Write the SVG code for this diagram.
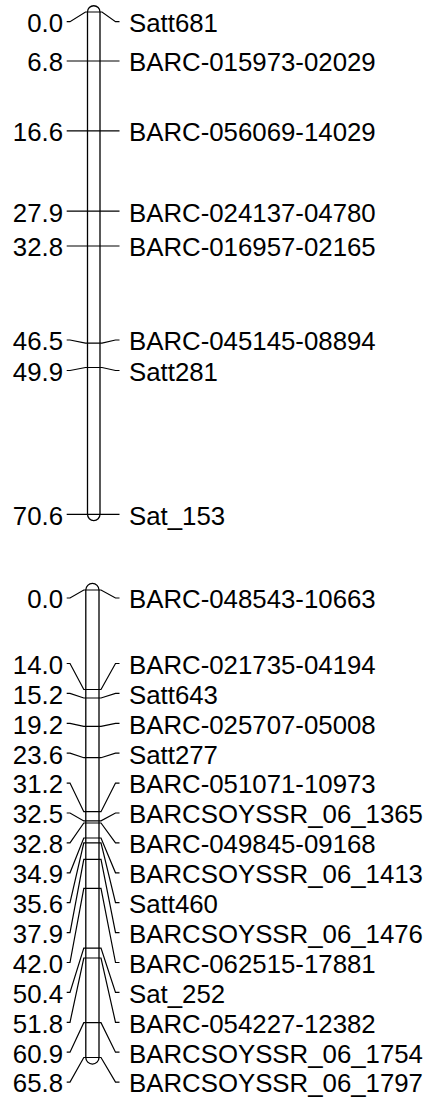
<svg xmlns="http://www.w3.org/2000/svg" width="432" height="1101" viewBox="0 0 432 1101">
<style>
.bar{fill:#fff;stroke:#000;stroke-width:1.3}
.ln{fill:none;stroke:#000;stroke-width:1.2}
.pos{font-family:"Liberation Sans",Arial,sans-serif;font-size:25.8px;fill:#000;text-anchor:end}
.nm{font-family:"Liberation Sans",Arial,sans-serif;font-size:25.8px;fill:#000}
</style>
<rect width="432" height="1101" fill="#fff"/>
<g id="chr1">
<path class="bar" d="M87.5 12 A6.25 6.25 0 0 1 100 12 V514.3 A6.25 6.25 0 0 1 87.5 514.3 Z"/>
</g>
<g id="chr2">
<path class="bar" d="M85.8 590 A6.6 6.6 0 0 1 99 590 V1057.5 A6.6 6.6 0 0 1 85.8 1057.5 Z"/>
</g>
<g id="connectors">
<path class="ln" d="M66.7 21.7 H70 L85.5 12 H102 L115.5 21.7 H119.5"/>
<path class="ln" d="M66.7 61 H119.5"/>
<path class="ln" d="M66.7 130.8 H119.5"/>
<path class="ln" d="M66.7 211.2 H119.5"/>
<path class="ln" d="M66.7 246 H119.5"/>
<path class="ln" d="M66.7 340 H70 L85.5 343.1 H102 L115.5 340 H119.5"/>
<path class="ln" d="M66.7 370.5 H70 L85.5 367.5 H102 L115.5 370.5 H119.5"/>
<path class="ln" d="M66.7 514.3 H119.5"/>

<path class="ln" d="M66.7 598 H70 L83.8 590 H101 L115.5 598 H119.5"/>
<path class="ln" d="M66.7 663.5 H70 L83.8 689.5 H101 L115.5 663.5 H119.5"/>
<path class="ln" d="M66.7 693.4 H70 L83.8 698 H101 L115.5 693.4 H119.5"/>
<path class="ln" d="M66.7 723.3 H70 L83.8 726.4 H101 L115.5 723.3 H119.5"/>
<path class="ln" d="M66.7 753.2 H70 L83.8 757.7 H101 L115.5 753.2 H119.5"/>
<path class="ln" d="M66.7 783.1 H70 L83.8 811.7 H101 L115.5 783.1 H119.5"/>
<path class="ln" d="M66.7 813 H70 L83.8 820.9 H101 L115.5 813 H119.5"/>
<path class="ln" d="M66.7 842.9 H70 L83.8 823 H101 L115.5 842.9 H119.5"/>
<path class="ln" d="M66.7 872.8 H70 L83.8 838 H101 L115.5 872.8 H119.5"/>
<path class="ln" d="M66.7 902.7 H70 L83.8 842.9 H101 L115.5 902.7 H119.5"/>
<path class="ln" d="M66.7 932.6 H70 L83.8 859.3 H101 L115.5 932.6 H119.5"/>
<path class="ln" d="M66.7 962.5 H70 L83.8 888.4 H101 L115.5 962.5 H119.5"/>
<path class="ln" d="M66.7 992.4 H70 L83.8 948.1 H101 L115.5 992.4 H119.5"/>
<path class="ln" d="M66.7 1022.3 H70 L83.8 958 H101 L115.5 1022.3 H119.5"/>
<path class="ln" d="M66.7 1052.2 H70 L83.8 1022.7 H101 L115.5 1052.2 H119.5"/>
<path class="ln" d="M66.7 1082.1 H70 L83.8 1057.5 H101 L115.5 1082.1 H119.5"/>
</g>
<g id="labels1">
<g id="m1_0"><text class="pos" x="63" y="32">0.0</text><text class="nm" x="129" y="32">Satt681</text></g>
<g id="m1_1"><text class="pos" x="63" y="71.3">6.8</text><text class="nm" x="129" y="71.3">BARC-015973-02029</text></g>
<g id="m1_2"><text class="pos" x="63" y="141.1">16.6</text><text class="nm" x="129" y="141.1">BARC-056069-14029</text></g>
<g id="m1_3"><text class="pos" x="63" y="221.5">27.9</text><text class="nm" x="129" y="221.5">BARC-024137-04780</text></g>
<g id="m1_4"><text class="pos" x="63" y="256.3">32.8</text><text class="nm" x="129" y="256.3">BARC-016957-02165</text></g>
<g id="m1_5"><text class="pos" x="63" y="350.3">46.5</text><text class="nm" x="129" y="350.3">BARC-045145-08894</text></g>
<g id="m1_6"><text class="pos" x="63" y="380.8">49.9</text><text class="nm" x="129" y="380.8">Satt281</text></g>
<g id="m1_7"><text class="pos" x="63" y="524.6">70.6</text><text class="nm" x="129" y="524.6">Sat_153</text></g>
</g>
<g id="labels2">
<g id="m2_0"><text class="pos" x="63" y="608.3">0.0</text><text class="nm" x="129" y="608.3">BARC-048543-10663</text></g>
<g id="m2_1"><text class="pos" x="63" y="673.8">14.0</text><text class="nm" x="129" y="673.8">BARC-021735-04194</text></g>
<g id="m2_2"><text class="pos" x="63" y="703.7">15.2</text><text class="nm" x="129" y="703.7">Satt643</text></g>
<g id="m2_3"><text class="pos" x="63" y="733.6">19.2</text><text class="nm" x="129" y="733.6">BARC-025707-05008</text></g>
<g id="m2_4"><text class="pos" x="63" y="763.5">23.6</text><text class="nm" x="129" y="763.5">Satt277</text></g>
<g id="m2_5"><text class="pos" x="63" y="793.4">31.2</text><text class="nm" x="129" y="793.4">BARC-051071-10973</text></g>
<g id="m2_6"><text class="pos" x="63" y="823.3">32.5</text><text class="nm" x="129" y="823.3">BARCSOYSSR_06_1365</text></g>
<g id="m2_7"><text class="pos" x="63" y="853.2">32.8</text><text class="nm" x="129" y="853.2">BARC-049845-09168</text></g>
<g id="m2_8"><text class="pos" x="63" y="883.1">34.9</text><text class="nm" x="129" y="883.1">BARCSOYSSR_06_1413</text></g>
<g id="m2_9"><text class="pos" x="63" y="913">35.6</text><text class="nm" x="129" y="913">Satt460</text></g>
<g id="m2_10"><text class="pos" x="63" y="942.9">37.9</text><text class="nm" x="129" y="942.9">BARCSOYSSR_06_1476</text></g>
<g id="m2_11"><text class="pos" x="63" y="972.8">42.0</text><text class="nm" x="129" y="972.8">BARC-062515-17881</text></g>
<g id="m2_12"><text class="pos" x="63" y="1002.7">50.4</text><text class="nm" x="129" y="1002.7">Sat_252</text></g>
<g id="m2_13"><text class="pos" x="63" y="1032.6">51.8</text><text class="nm" x="129" y="1032.6">BARC-054227-12382</text></g>
<g id="m2_14"><text class="pos" x="63" y="1062.5">60.9</text><text class="nm" x="129" y="1062.5">BARCSOYSSR_06_1754</text></g>
<g id="m2_15"><text class="pos" x="63" y="1092.4">65.8</text><text class="nm" x="129" y="1092.4">BARCSOYSSR_06_1797</text></g>
</g>
</svg>
